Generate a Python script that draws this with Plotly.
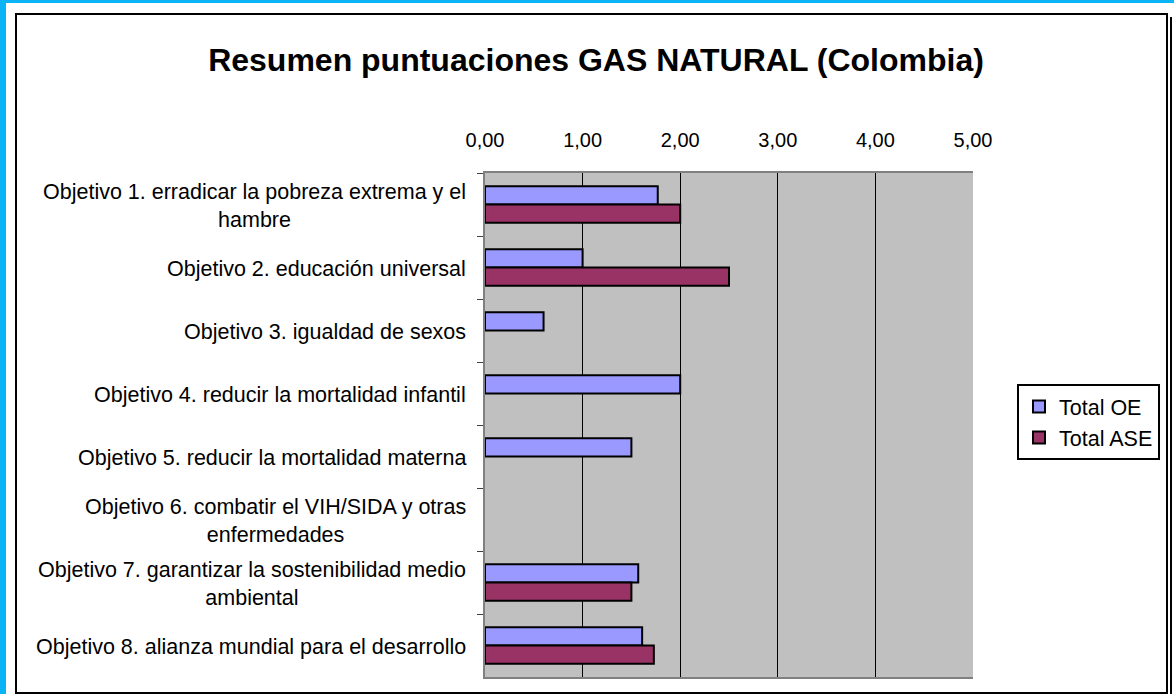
import plotly.graph_objects as go

# ---- data ----
categories = [
    "Objetivo 1. erradicar la pobreza extrema y el hambre",
    "Objetivo 2. educación universal",
    "Objetivo 3. igualdad de sexos",
    "Objetivo 4. reducir la mortalidad infantil",
    "Objetivo 5. reducir la mortalidad materna",
    "Objetivo 6. combatir el VIH/SIDA y otras enfermedades",
    "Objetivo 7. garantizar la sostenibilidad medio ambiental",
    "Objetivo 8. alianza mundial para el desarrollo",
]
category_labels = [
    "Objetivo 1. erradicar la pobreza extrema y el<br>hambre",
    "Objetivo 2. educación universal",
    "Objetivo 3. igualdad de sexos",
    "Objetivo 4. reducir la mortalidad infantil",
    "Objetivo 5. reducir la mortalidad materna",
    "Objetivo 6. combatir el VIH/SIDA y otras<br>enfermedades",
    "Objetivo 7. garantizar la sostenibilidad medio<br>ambiental",
    "Objetivo 8. alianza mundial para el desarrollo",
]
total_oe = [1.77, 1.00, 0.60, 2.00, 1.50, None, 1.57, 1.61]
total_ase = [2.00, 2.50, None, None, None, None, 1.50, 1.73]
x_ticks = [0, 1, 2, 3, 4, 5]
x_tick_labels = ["0,00", "1,00", "2,00", "3,00", "4,00", "5,00"]
title_text = "Resumen puntuaciones GAS NATURAL (Colombia)"

FONT = "Liberation Sans, Arial, sans-serif"

fig = go.Figure()
fig.add_trace(go.Bar(
    y=categories, x=total_oe, orientation="h", name="Total OE",
    legendgroup="oe",
    marker=dict(color="#9999FF", line=dict(color="#000000", width=2)),
))
fig.add_trace(go.Bar(
    y=categories, x=total_ase, orientation="h", name="Total ASE",
    legendgroup="ase",
    marker=dict(color="#993366", line=dict(color="#000000", width=2)),
))

# Layout geometry (pixels)
W, H = 1174, 694
L, R, T, B = 485, 973, 173, 677
pw, ph = R - L, B - T

def px2x(px):
    return (px - L) / pw

def py2y(py):
    return (B - py) / ph

annotations = []
for cat, lab in zip(categories, category_labels):
    annotations.append(dict(
        x=px2x(468), xref="paper", xanchor="right",
        y=cat, yref="y", yanchor="middle", yshift=-1,
        text=lab, showarrow=False, align="center",
        font=dict(family=FONT, size=21.5, color="#000000"),
    ))

shapes = [
    # cyan strips (left, top)
    dict(type="rect", xref="paper", yref="paper",
         x0=px2x(0), x1=px2x(6), y0=py2y(H), y1=py2y(0),
         fillcolor="#0AB4F5", line=dict(width=0), layer="above"),
    dict(type="rect", xref="paper", yref="paper",
         x0=px2x(0), x1=px2x(W), y0=py2y(3), y1=py2y(0),
         fillcolor="#0AB4F5", line=dict(width=0), layer="above"),
    # chart frame
    dict(type="rect", xref="paper", yref="paper",
         x0=px2x(16), x1=px2x(1167), y0=py2y(693), y1=py2y(14),
         line=dict(color="#000000", width=2), fillcolor="rgba(0,0,0,0)", layer="above"),
    # frame shadow on right
    dict(type="line", xref="paper", yref="paper",
         x0=px2x(1171), x1=px2x(1171), y0=py2y(694), y1=py2y(17),
         line=dict(color="#000000", width=2), layer="above"),
]

fig.update_layout(
    width=W, height=H,
    margin=dict(l=L, r=W - R, t=T, b=H - B, autoexpand=False),
    paper_bgcolor="#FFFFFF",
    plot_bgcolor="#C0C0C0",
    font=dict(family=FONT, size=20, color="#000000"),
    title=dict(text="<b>" + title_text + "</b>", x=596 / W, xref="container",
               xanchor="center", y=1 - 60 / H, yref="container", yanchor="middle",
               font=dict(family=FONT, size=32, color="#000000")),
    barmode="group", bargap=0.42, bargroupgap=0.0,
    showlegend=True,
    legend=dict(x=px2x(1017), y=py2y(384), xanchor="left", yanchor="top",
                bordercolor="#000000", borderwidth=2, bgcolor="#FFFFFF",
                font=dict(family=FONT, size=21.5, color="#000000"),
                tracegroupgap=16, traceorder="normal"),
    annotations=annotations,
    shapes=shapes,
    xaxis=dict(side="top", range=[0, 5], tickvals=x_ticks, ticktext=x_tick_labels,
               showgrid=True, gridcolor="#000000", gridwidth=1, zeroline=False,
               showline=True, linecolor="#808080", linewidth=2, mirror=True,
               ticks="outside", ticklen=16, tickcolor="rgba(0,0,0,0)",
               tickfont=dict(family=FONT, size=20, color="#000000"), fixedrange=True),
    yaxis=dict(categoryorder="array", categoryarray=categories, autorange="reversed",
               showticklabels=False, ticks="outside", tickson="boundaries", ticklen=6,
               tickcolor="#404040", tickwidth=1,
               showline=True, linecolor="#808080", linewidth=2, showgrid=False,
               zeroline=False, fixedrange=True),
)

fig.write_html(
    "out.html",
    config={"displayModeBar": False},
    post_script="document.body.style.margin='0';document.body.style.overflow='hidden';",
)
